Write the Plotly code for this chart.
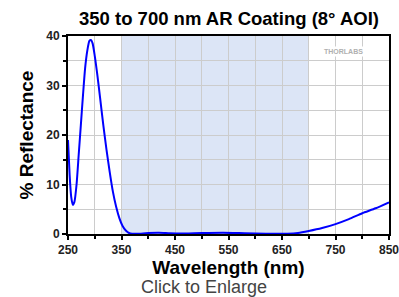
import plotly.graph_objects as go

# Data
wavelength = [250, 253, 256, 259, 262, 266, 270, 274, 278, 282, 286, 290, 293, 296, 300, 305,
              310, 316, 322, 328, 334, 340, 346, 352, 358, 364, 370, 380, 400, 420, 440, 460,
              500, 540, 580, 620, 660, 680, 700, 725, 750, 775, 800, 825, 850]
reflectance = [19, 12, 7.5, 5.9, 6.5, 10, 16, 22, 28, 33.5, 37, 39, 39.2, 38.5, 36, 32,
               27.5, 22, 17, 12.5, 8.5, 5.5, 3.2, 1.6, 0.7, 0.2, 0.05, 0.05, 0.2, 0.25, 0.15, 0.1,
               0.2, 0.25, 0.15, 0.05, 0.05, 0.2, 0.6, 1.2, 2.0, 3.0, 4.2, 5.2, 6.4]
band = [350, 700]
x_ticks = [250, 350, 450, 550, 650, 750, 850]
y_ticks = [0, 10, 20, 30, 40]

W, H = 399, 297
L, T = 68, 36
PW, PH = 321, 198
R, B = W - L - PW, H - T - PH

def py(page_y):
    return 1 - (page_y - T) / PH

def px(page_x):
    return (page_x - L) / PW

fig = go.Figure()
fig.add_trace(go.Scatter(x=wavelength, y=reflectance, mode="lines",
                         line=dict(color="#0000ff", width=2, shape="spline", smoothing=0.6),
                         hoverinfo="skip", showlegend=False))

fig.add_shape(type="rect", xref="x", yref="paper", x0=band[0], x1=band[1], y0=0, y1=1,
              fillcolor="#dce5f6", line=dict(width=0), layer="below")

tickfont = dict(family="Arial", size=12, color="#222222", weight="bold")
titlefont = dict(family="Arial", size=19, color="black", weight="bold")
fig.update_xaxes(range=[250, 850], tickvals=x_ticks, ticktext=[str(v) for v in x_ticks],
                 automargin=False, ticklabeloverflow="allow",
                 showline=True, mirror=True, linecolor="black", linewidth=2,
                 ticks="outside", ticklen=4, tickcolor="black", tickwidth=1.5,
                 showgrid=True, gridcolor="#cccccc", gridwidth=1,
                 minor=dict(tickvals=[300, 400, 500, 600, 700, 800], showgrid=True,
                            gridcolor="#cccccc", ticks="outside", ticklen=3, tickcolor="black"),
                 tickfont=tickfont, zeroline=False,
                 title=dict(text="Wavelength (nm)", standoff=1, font=titlefont))
fig.update_yaxes(range=[0, 40], tickvals=y_ticks, automargin=False,
                 showline=True, mirror=True, linecolor="black", linewidth=2,
                 ticks="outside", ticklen=4, tickcolor="black", tickwidth=1.5,
                 showgrid=True, gridcolor="#cccccc", gridwidth=1,
                 minor=dict(tickvals=[5, 15, 25, 35], showgrid=True,
                            gridcolor="#cccccc", ticks="outside", ticklen=3, tickcolor="black"),
                 tickfont=tickfont, zeroline=False,
                 title=dict(text="% Reflectance", standoff=8, font=titlefont))

fig.add_annotation(text="THORLABS", xref="paper", yref="paper", x=px(365), y=py(46),
                   showarrow=False, bgcolor="white",
                   font=dict(family="Arial", size=7, color="#b0b0b0", weight="bold"))
fig.add_annotation(text="Click to Enlarge", xref="paper", yref="paper", x=px(204),
                   y=py(287), yanchor="middle", showarrow=False,
                   font=dict(family="Arial", size=18, color="#444444"))

fig.update_layout(
    width=W, height=H,
    margin=dict(l=L, r=R, t=T, b=B, autoexpand=False),
    paper_bgcolor="white", plot_bgcolor="white",
    title=dict(text="350 to 700 nm AR Coating (8° AOI)", x=229 / W, xanchor="center",
               y=1 - 19 / H, yanchor="middle", font=dict(family="Arial", size=18.5,
                                                        color="black", weight="bold")),
)

fig.write_html("out.html", config={"displayModeBar": False},
               post_script="document.body.style.margin='0';")
